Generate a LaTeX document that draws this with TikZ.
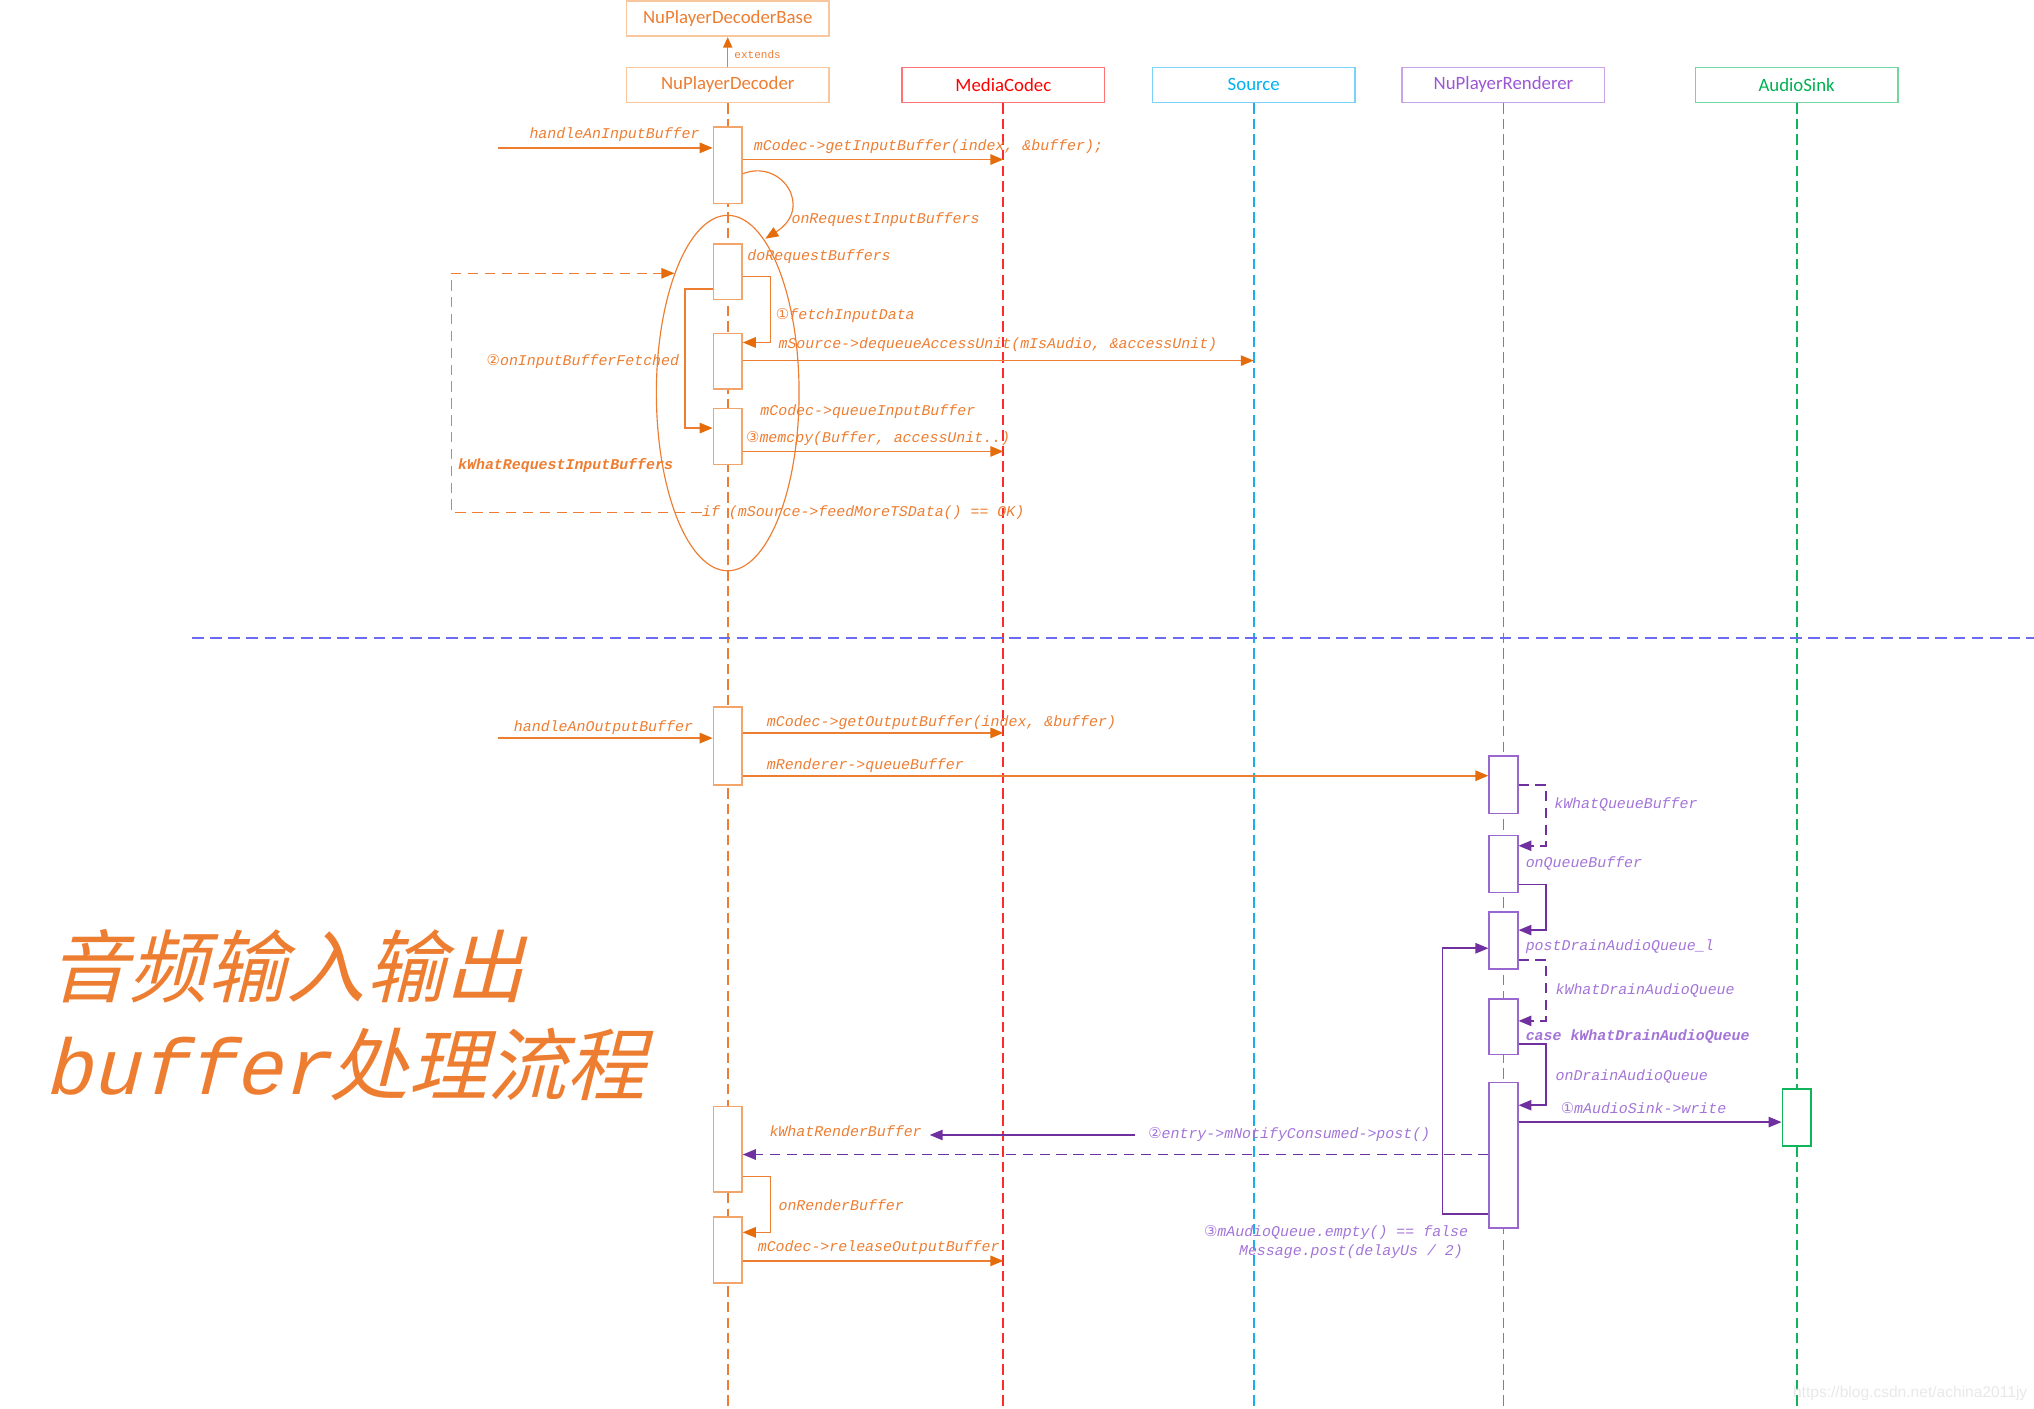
\documentclass[tikz,border=0pt]{standalone}
\usepackage{fontspec}
\usetikzlibrary{arrows.meta,shapes.geometric}
\setmainfont{Liberation Sans}
\newfontfamily\monof{Liberation Mono}
\newfontfamily\circf{DejaVu Sans}
\newfontfamily\cjkf[FakeSlant=0.25]{Noto Sans CJK SC}
\newfontfamily\bigmonof[FakeSlant=0.25]{Liberation Mono}
\newfontfamily\headf{Carlito}
\definecolor{org}{HTML}{ED7D31}
\definecolor{orgd}{HTML}{E46C0A}
\definecolor{orgl}{HTML}{F8C79E}
\definecolor{orgb}{HTML}{F2A46A}
\definecolor{redh}{HTML}{FF0000}
\definecolor{redb}{HTML}{FF7575}
\definecolor{redl}{HTML}{FF2A2A}
\definecolor{cyh}{HTML}{00B0F0}
\definecolor{cyb}{HTML}{7DD3F7}
\definecolor{cyl}{HTML}{1AAFEA}
\definecolor{puh}{HTML}{9B57D3}
\definecolor{pub}{HTML}{C9A4E8}
\definecolor{pul}{HTML}{9A66CF}
\definecolor{pud}{HTML}{7030A0}
\definecolor{put}{HTML}{A374D8}
\definecolor{grh}{HTML}{00B050}
\definecolor{grb}{HTML}{73D59F}
\definecolor{grl}{HTML}{10B45A}
\definecolor{sepc}{HTML}{6A6AF5}
\tikzset{
  head/.style={draw, line width=1.3pt, minimum width=156pt, minimum height=27pt, inner sep=0pt, font=\headf\fontsize{14.5}{16}\selectfont},
  life/.style={dash pattern=on 8pt off 4pt, line width=1.4pt},
  actO/.style={draw=orgb, fill=white, line width=1.2pt, minimum width=22pt, inner sep=0pt},
  actP/.style={draw=pul, fill=white, line width=1.2pt, minimum width=22pt, inner sep=0pt},
  lbl/.style={anchor=base west, inner sep=0pt, font=\monof\itshape\fontsize{11.5}{13}\selectfont},
  olbl/.style={lbl, text=org},
  plbl/.style={lbl, text=put},
  omsg/.style={draw=org, line width=1.2pt, -{Triangle[length=10pt,width=8pt,color=orgd]}},
  pmsg/.style={draw=pud, line width=1.2pt, -{Triangle[length=10pt,width=8pt]}},
  odash/.style={omsg, dash pattern=on 8pt off 5pt},
  pdash/.style={pmsg, dash pattern=on 8pt off 5pt},
}
\begin{document}
\begin{tikzpicture}[x=1pt,y=-1pt]
\useasboundingbox (0,0) rectangle (1568,1086);
% heads
\node[head, draw=orgl, text=org] (base) at (561,14.5) {NuPlayerDecoderBase};
\node[head, draw=orgl, text=org] (dec) at (561,65.5) {NuPlayerDecoder};
\node[head, draw=redb, text=redh] (mc) at (773.5,65.5) {MediaCodec};
\node[head, draw=cyb, text=cyh] (so) at (966.5,65.5) {Source};
\node[head, draw=pub, text=puh] (nr) at (1159,65.5) {NuPlayerRenderer};
\node[head, draw=grb, text=grh] (as) at (1385,65.5) {AudioSink};
\draw[draw=org, line width=1.1pt, -{Triangle[length=8pt,width=7pt,color=orgd]}] (dec.north) -- (base.south);
\node[anchor=base west, inner sep=0pt, text=org, font=\monof\fontsize{8.5}{10}\selectfont] (ext) at (566,45) {extends};
% lifelines
\draw[life, org] (dec.south) -- (dec.south |- 0,1086);
\draw[life, redl] (mc.south) -- (mc.south |- 0,1086);
\draw[life, cyl] (so.south) -- (so.south |- 0,1086);
\draw[life, pul] (nr.south) -- (nr.south |- 0,1086);
\draw[life, grl] (as.south) -- (as.south |- 0,1086);
% separator
\draw[sepc, line width=1.3pt, dash pattern=on 9pt off 5pt] (148,492) -- (1568,492);
% group ellipse
\node[draw=org, ellipse, line width=0.9pt, minimum width=110pt, minimum height=274pt, inner sep=0pt] (grp) at (561,303) {};
% activations
\node[actO, minimum height=59pt] (a1) at (561,127.5) {};
\node[actO, minimum height=43pt] (a2) at (561,209.5) {};
\node[actO, minimum height=43pt] (a3) at (561,278.5) {};
\node[actO, minimum height=43pt] (a4) at (561,336.5) {};
\node[actO, minimum height=60pt] (a5) at (561,575) {};
\node[actO, minimum height=66pt] (a6) at (561,886) {};
\node[actO, minimum height=51pt] (a7) at (561,963.5) {};
\node[actP, minimum height=44pt] (r1) at (1159,605) {};
\node[actP, minimum height=44pt] (r2) at (1159,666) {};
\node[actP, minimum height=44pt] (r3) at (1159,725) {};
\node[actP, minimum height=43pt] (r4) at (1159,791.5) {};
\node[actP, minimum height=112pt] (r5) at (1159,890.5) {};
\node[draw=grl, fill=white, line width=1.2pt, minimum width=22pt, minimum height=44pt, inner sep=0pt] (s1) at (1385,861.5) {};
% upper labels
\node[olbl] (l1) at (408,107) {handleAnInputBuffer};
\node[olbl] (l2) at (581,116) {mCodec->getInputBuffer(index, \&buffer);};
\node[olbl] (l3) at (610,172) {onRequestInputBuffers};
\node[olbl] (l4) at (576,201) {doRequestBuffers};
\node[olbl] (l5) at (598,246) {{\circf ①}fetchInputData};
\node[olbl] (l6) at (600,269) {mSource->dequeueAccessUnit(mIsAudio, \&accessUnit)};
\node[olbl] (l7) at (375,282) {{\circf ②}onInputBufferFetched};
\node[olbl] (l8) at (586,320) {mCodec->queueInputBuffer};
\node[olbl] (l9) at (575,341) {{\circf ③}memcpy(Buffer, accessUnit..)};
\node[olbl, font=\monof\bfseries\itshape\fontsize{11.5}{13}\selectfont] (l10) at (353,362) {kWhatRequestInputBuffers};
\node[olbl] (iftxt) at (541,398) {if (mSource->feedMoreTSData() == OK)};
% upper messages
\coordinate (in1) at (384,114);
\draw[omsg] (in1) -- (a1.west |- in1);
\draw[omsg] (a1.east |- 0,123) -- (mc.south |- 0,123);
\draw[omsg, line width=0.9pt] (a1.east |- 0,134) .. controls (602,122) and (628,160) .. (590,184);
\draw[omsg] (a2.east |- 0,213) -- (594,213) -- (594,264) -- (a3.east |- 0,264);
\draw[omsg] (a2.west |- 0,223) -- (528,223) -- (528,330) -- (a4.west |- 0,330);
\draw[omsg] (a3.east |- 0,278) -- (so.south |- 0,278);
\draw[omsg] (a4.east |- 0,348) -- (mc.south |- 0,348);
\coordinate (lx) at (348,0);
\draw[odash] (iftxt.west) -- (iftxt.west -| lx) |- (grp.114);
% lower labels
\node[olbl] (m1) at (396,564) {handleAnOutputBuffer};
\node[olbl] (m2) at (591,560) {mCodec->getOutputBuffer(index, \&buffer)};
\node[olbl] (m3) at (591,593) {mRenderer->queueBuffer};
\node[plbl] (m4) at (1198,623) {kWhatQueueBuffer};
\node[plbl] (m5) at (1176,669) {onQueueBuffer};
\node[plbl] (m6) at (1176,733) {postDrainAudioQueue\_l};
\node[plbl] (m7) at (1199,767) {kWhatDrainAudioQueue};
\node[plbl, font=\monof\bfseries\itshape\fontsize{11.5}{13}\selectfont] (m8) at (1176,802) {case kWhatDrainAudioQueue};
\node[plbl] (m9) at (1199,833) {onDrainAudioQueue};
\node[plbl] (m10) at (1203,858) {{\circf ①}mAudioSink->write};
\node[olbl] (krb) at (593,876) {kWhatRenderBuffer};
\node[plbl] (ent) at (885,878) {{\circf ②}entry->mNotifyConsumed->post()};
\node[olbl] (m11) at (600,933) {onRenderBuffer};
\node[olbl] (m12) at (584,965) {mCodec->releaseOutputBuffer};
\node[plbl] (m13) at (928,953) {{\circf ③}mAudioQueue.empty() == false};
\node[plbl] (m14) at (955,968) {Message.post(delayUs / 2)};
% lower messages
\coordinate (in2) at (384,569);
\draw[omsg] (in2) -- (a5.west |- in2);
\draw[omsg] (a5.east |- 0,565) -- (mc.south |- 0,565);
\draw[omsg] (a5.east |- 0,598) -- (r1.west |- 0,598);
\draw[pdash] (r1.east |- 0,605) -- (1192,605) -- (1192,652) -- (r2.east |- 0,652);
\draw[pmsg] (r2.east |- 0,682) -- (1192,682) -- (1192,717) -- (r3.east |- 0,717);
\draw[pdash] (r3.east |- 0,740) -- (1192,740) -- (1192,787) -- (r4.east |- 0,787);
\draw[pmsg] (r4.east |- 0,805) -- (1192,805) -- (1192,852) -- (r5.east |- 0,852);
\draw[pmsg] (r5.east |- 0,865) -- (s1.west |- 0,865);
\draw[pmsg] (r5.west |- 0,936) -- (1112,936) -- (1112,731) -- (r3.west |- 0,731);
\draw[pdash] (r5.west |- 0,890) -- (a6.east |- 0,890);
\draw[pmsg, shorten <=10pt] (ent.west) -- ([xshift=6pt]krb.east |- ent.west);
\draw[omsg] (a6.east |- 0,907) -- (594,907) -- (594,950) -- (a7.east |- 0,950);
\draw[omsg] (a7.east |- 0,972) -- (mc.south |- 0,972);
% title
\node[anchor=base west, inner sep=0pt, text=org] (t1) at (38,768) {\cjkf\fontsize{61}{70}\selectfont 音频输入输出};
\node[anchor=base west, inner sep=0pt, text=org] (t2) at (34,844) {{\bigmonof\fontsize{61}{70}\selectfont buffer}{\cjkf\fontsize{61}{70}\selectfont 处理流程}};
% watermark
\node[anchor=base east, inner sep=0pt, text=black!9, font=\fontsize{12}{14}\selectfont] (wm) at (1563,1077) {https://blog.csdn.net/achina2011jy};
\end{tikzpicture}
\end{document}
